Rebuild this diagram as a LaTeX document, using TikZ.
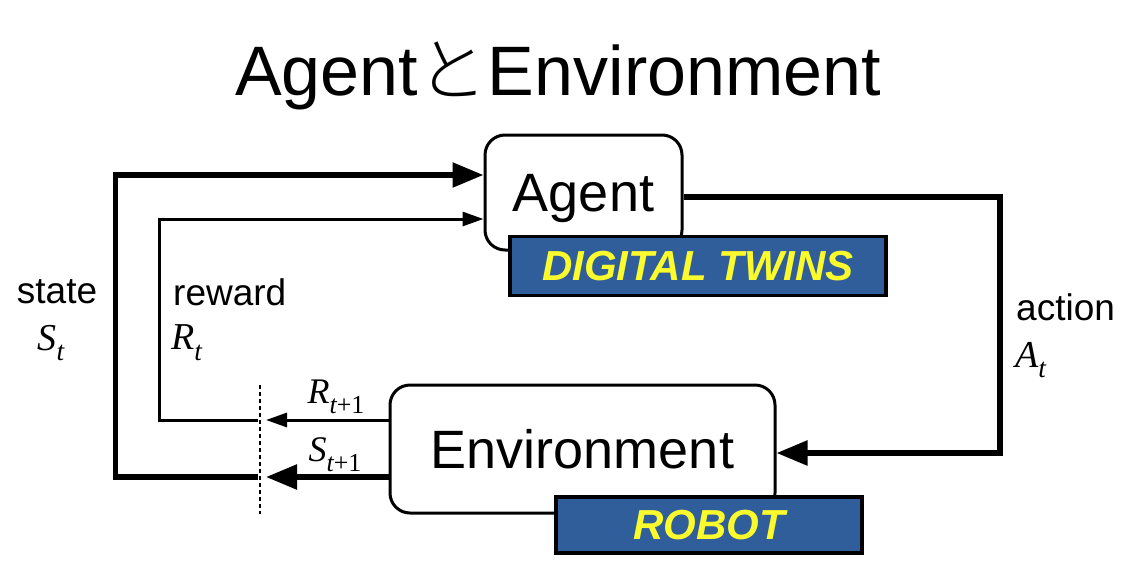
\documentclass[tikz,border=0pt]{standalone}
\usepackage{fontspec}
\usepackage{graphicx}
\setmainfont{Liberation Sans}
\newfontfamily\jpfont{Noto Sans CJK JP Light}
\newfontfamily\tms{Liberation Serif}
\usetikzlibrary{arrows.meta}
% italic symbol with a small subscript, Times style
\newcommand\varsym[2]{{\tms\itshape #1\raisebox{-0.28em}{\scalebox{0.72}{#2}}}}
\definecolor{tagblue}{RGB}{47,94,154}
\definecolor{tagyellow}{RGB}{250,250,45}
\tikzset{
  roundbox/.style={draw=black, line width=3pt, rounded corners=20pt, fill=white,
    font=\fontsize{54}{54}\selectfont, text depth=0pt, text height=38.7pt},
  tagbox/.style={draw=black, line width=3.5pt, fill=tagblue, text=tagyellow,
    font=\fontsize{42}{42}\selectfont\bfseries\itshape},
  heavy/.style={line width=5.5pt},
  light/.style={line width=3pt},
  heavytip/.style={-{Triangle[length=31pt,width=24pt]}},
  lighttip/.style={-{Triangle[length=21pt,width=14pt]}},
  lbl/.style={font=\fontsize{37}{37}\selectfont, inner sep=0pt},
  sym/.style={font=\fontsize{38}{38}\selectfont, inner sep=0pt},
  smallsym/.style={font=\fontsize{36}{36}\selectfont, inner sep=0pt},
}
\begin{document}
\begin{tikzpicture}[x=1pt,y=-1pt]
\useasboundingbox[fill=white] (0,0) rectangle (1138,579);

% heading
\node[anchor=base, inner sep=0pt, font=\fontsize{70}{70}\selectfont] (title) at (558,95)
  {Agent{\jpfont と}Environment};

% the two blocks
\node[roundbox, minimum width=197pt, minimum height=115pt] (agent) at (583.5,192.5) {Agent};
\node[roundbox, minimum width=385pt, minimum height=128pt] (env) at (582.5,449) {Environment};

% time-step cut
\coordinate (cuttop) at (260,385);
\coordinate (cutbot) at (260,514);
\draw[line width=2.4pt, dash pattern=on 4pt off 3pt] (cuttop) -- (cutbot);

% state loop
\coordinate (sout) at (0,477);
\coordinate (sstop) at (266,477);
\coordinate (sback) at (258,477);
\coordinate (scorner) at (115.5,175);
\draw[heavy, heavytip] (env.west |- sout) -- (sstop);
\draw[heavy, heavytip] (sback) -| (scorner) -- (agent.west |- scorner);

% reward loop
\coordinate (rout) at (0,420);
\coordinate (rstop) at (266,420);
\coordinate (rback) at (258,420);
\coordinate (rcorner) at (159,219);
\draw[light, lighttip] (env.west |- rout) -- (rstop);
\draw[light, lighttip] (rback) -| (rcorner) -- (agent.west |- rcorner);

% action path
\coordinate (aout) at (0,197);
\coordinate (acorner) at (1000,453);
\draw[heavy, heavytip] (agent.east |- aout) -| (acorner) -- (env.east |- acorner);

% tags over the blocks
\node[tagbox, minimum width=376pt, minimum height=59pt] (twins) at (698,266)
  {\raisebox{-5pt}{DIGITAL TWINS}};
\node[tagbox, minimum width=306pt, minimum height=56pt] (robot) at (709,525)
  {\raisebox{-5pt}{ROBOT}};

% labels
\node[lbl] (statelbl) at (57,292) {state};
\node[sym] (stsym) at (51,343) {\varsym{S}{t}};
\node[lbl, anchor=west] (rewardlbl) at (173,292) {reward};
\node[sym, anchor=west] (rtsym) at (171,343) {\varsym{R}{t}};
\node[lbl, anchor=west] (actionlbl) at (1016,307) {action};
\node[sym, anchor=west] (atsym) at (1015,360) {\varsym{A}{t}};
\node[smallsym] (rnext) at (336,397) {\varsym{R}{t\upshape+1}};
\node[smallsym] (snext) at (335,455) {\varsym{S}{t\upshape+1}};
\end{tikzpicture}
\end{document}
